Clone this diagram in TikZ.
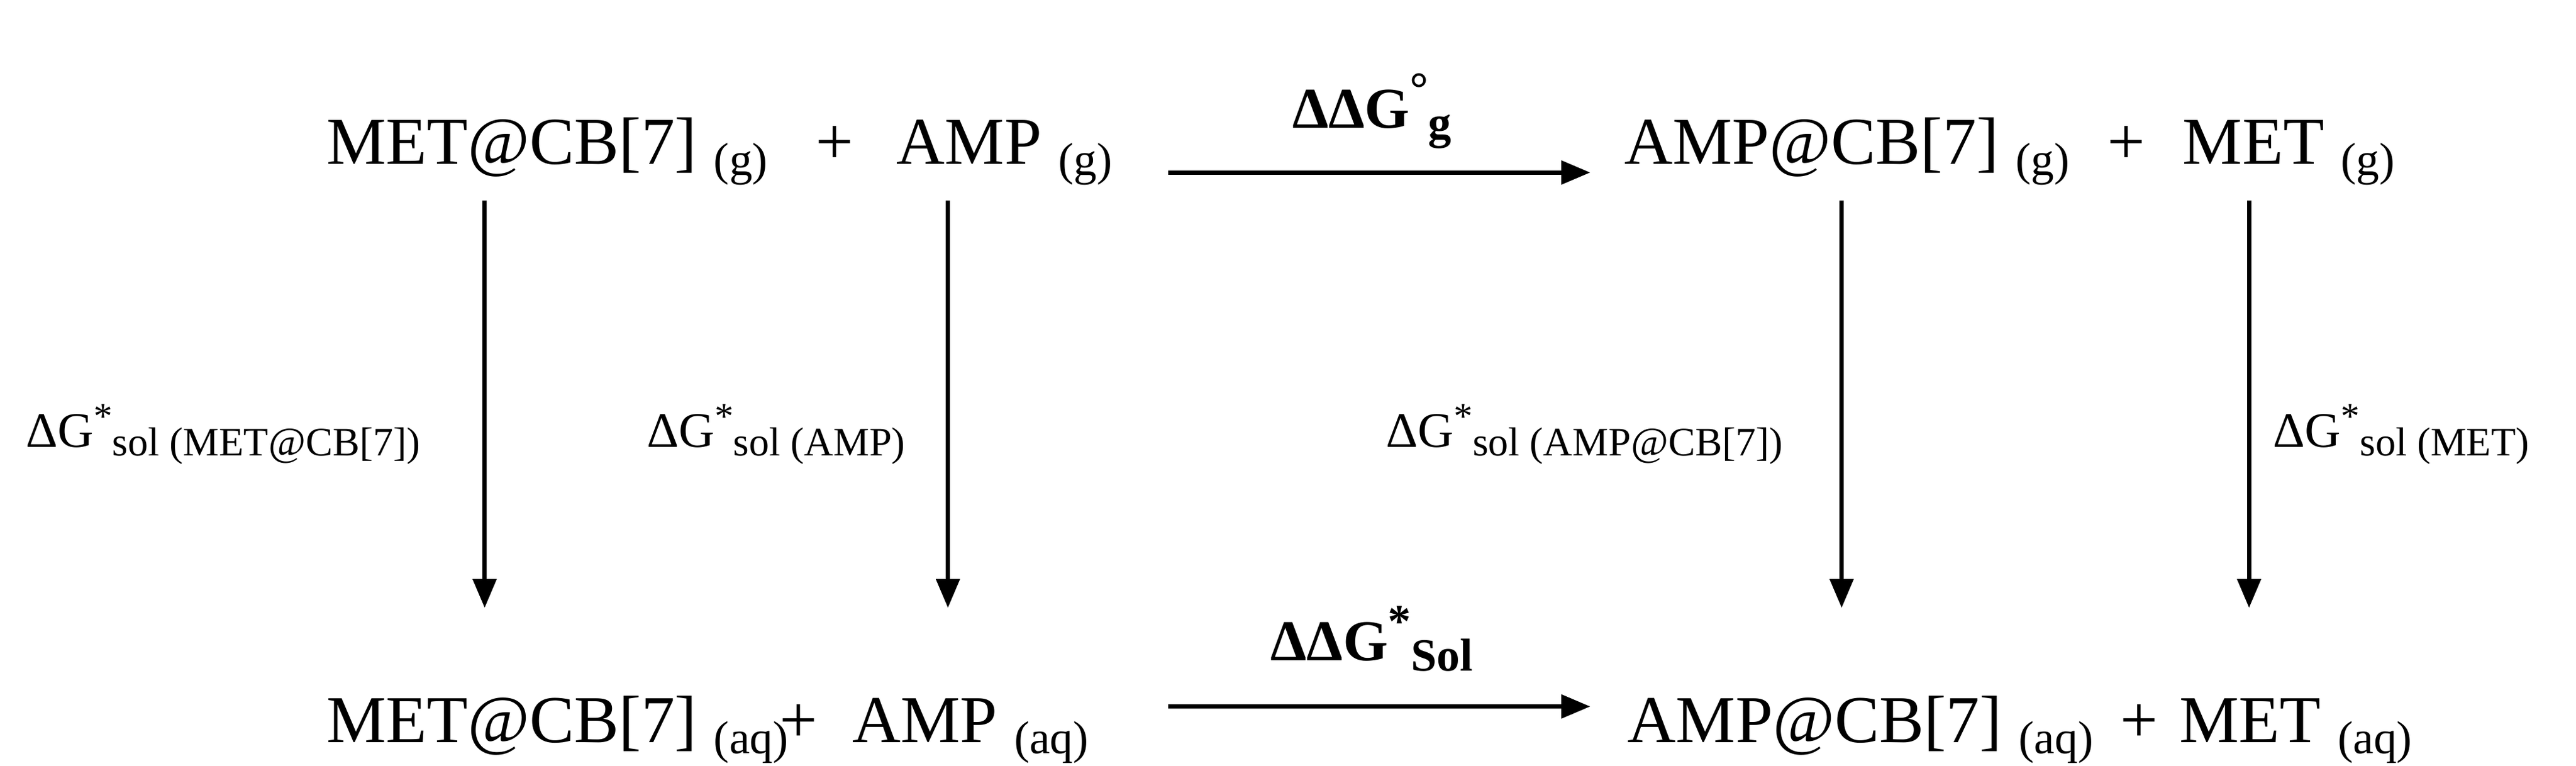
\documentclass[tikz,border=0pt]{standalone}
\usepackage{fontspec}
\setmainfont{Liberation Serif}
\usetikzlibrary{arrows.meta}
\newcommand{\mysb}[1]{\raisebox{-0.35ex}{\fontsize{8}{10}\selectfont(#1)}}
\newcommand{\dg}[1]{ΔG\raisebox{0.8ex}{\fontsize{6.5}{7}\selectfont *}\raisebox{-0.4ex}{\fontsize{7}{8}\selectfont sol (#1)}}
\tikzset{
 sp/.style={anchor=base west,inner sep=0pt,font=\fontsize{11.6}{14}\selectfont},
 lab/.style={anchor=base west,inner sep=0pt,font=\fontsize{8.6}{10}\selectfont},
 hl/.style={anchor=base,inner sep=0pt,font=\fontsize{10}{12}\selectfont\bfseries},
 arr/.style={line width=0.75pt,-{Triangle[length=5pt,width=4pt]}}
}
\begin{document}
\begin{tikzpicture}[x=0.01cm,y=-0.01cm]
\useasboundingbox (0,0) rectangle (1568,466);
\node[sp] (t1) at (198,100) {MET@CB[7] \mysb{g}};
\node[sp] (tp1) at (496,100) {+};
\node[sp] (t2) at (545,100) {AMP \mysb{g}};
\node[sp] (t3) at (988,100) {AMP@CB[7] \mysb{g}};
\node[sp] (tp2) at (1282,100) {+};
\node[sp] (t4) at (1328,100) {MET \mysb{g}};
\node[sp] (b1) at (198,452) {MET@CB[7] \mysb{aq}};
\node[sp] (bp1) at (474,452) {+};
\node[sp] (b2) at (518,452) {AMP \mysb{aq}};
\node[sp] (b3) at (990,452) {AMP@CB[7] \mysb{aq}};
\node[sp] (bp2) at (1290,452) {+};
\node[sp] (b4) at (1326,452) {MET \mysb{aq}};
\node[hl] (h1) at (835,78) {ΔΔG\raisebox{0.9ex}{\fontsize{8}{10}\selectfont°}\raisebox{-0.4ex}{\fontsize{8}{9}\selectfont g}};
\node[hl] (h2) at (835,402) {ΔΔG\raisebox{0.9ex}{\fontsize{8}{9}\selectfont *}\raisebox{-0.4ex}{\fontsize{8}{9}\selectfont Sol}};
\node[lab] (l1) at (15,272) {\dg{MET@CB[7]}};
\node[lab] (l2) at (393,272) {\dg{AMP}};
\node[lab] (l3) at (843,272) {\dg{AMP@CB[7]}};
\node[lab] (l4) at (1383,272) {\dg{MET}};
\foreach \n/\x in {1/295,2/577,3/1121,4/1369}{
 \coordinate (s\n) at (\x,122); \coordinate (e\n) at (\x,370);
 \draw[arr] (s\n) -- (e\n);}
\coordinate (hs1) at (711,105); \coordinate (he1) at (968,105);
\coordinate (hs2) at (711,430); \coordinate (he2) at (968,430);
\draw[arr] (hs1) -- (he1);
\draw[arr] (hs2) -- (he2);
\end{tikzpicture}
\end{document}
